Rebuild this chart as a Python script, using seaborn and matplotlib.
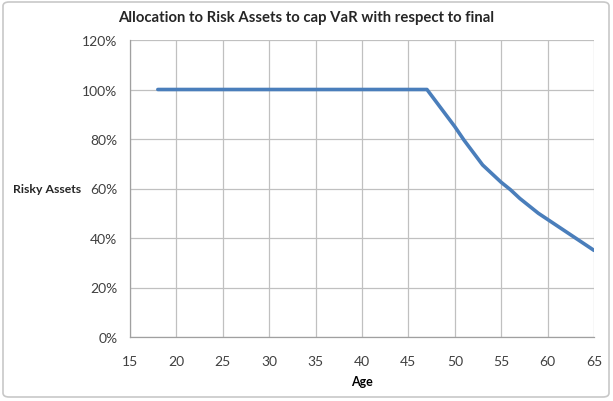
import matplotlib
matplotlib.use("Agg")
import matplotlib.pyplot as plt
import seaborn as sns
import pandas as pd
from matplotlib.patches import FancyBboxPatch
from matplotlib.ticker import FuncFormatter

ages = list(range(18, 66))
risky = [100.0] * (47 - 18) + [100.0, 95.0, 90.0, 85.0, 79.5, 74.5, 69.5, 66.0, 62.5,
                               59.5, 56.0, 53.0, 50.0, 47.5, 45.0, 42.5, 40.0, 37.5, 35.0]
x_ticks = [15, 20, 25, 30, 35, 40, 45, 50, 55, 60, 65]
y_ticks = [0, 20, 40, 60, 80, 100, 120]

df = pd.DataFrame({"Age": ages, "Risky": risky})

sns.set_theme(style="white")
plt.rcParams['font.family'] = ['Lato', 'DejaVu Sans']

fig = plt.figure(figsize=(6.13, 4.02), dpi=100)
ax = fig.add_axes([130 / 613, (402 - 338) / 402, (594 - 130) / 613, (338 - 41) / 402])

sns.lineplot(data=df, x="Age", y="Risky", ax=ax, color="#4A7EBB", linewidth=2.6)

ax.set_xlim(15, 65)
ax.set_ylim(0, 120)
ax.set_xticks(x_ticks)
ax.set_yticks(y_ticks)
ax.yaxis.set_major_formatter(FuncFormatter(lambda v, p: f"{int(v)}%"))
ax.grid(True, color="#C0C0C0", linewidth=0.9)
ax.set_axisbelow(True)
for s in ["top", "right"]:
    ax.spines[s].set_visible(False)
for s in ["left", "bottom"]:
    ax.spines[s].set_color("#A0A0A0")
    ax.spines[s].set_linewidth(0.9)
ax.tick_params(axis="both", which="major", length=4, width=0.9, color="#A0A0A0",
               labelsize=10, labelcolor="#404040", pad=5)
ax.tick_params(axis="x", pad=9)

ax.set_xlabel("Age", fontsize=9, fontweight="bold", color="black", labelpad=6)
ax.set_ylabel("")
fig.text(47 / 613, 1 - 190 / 402, "Risky Assets", fontsize=8.8, fontweight="bold",
         ha="center", va="center")
fig.text(306 / 613, 1 - 18 / 402, "Allocation to Risk Assets to cap VaR with respect to final",
         fontsize=10.7, fontweight="bold", ha="center", va="center")

border = FancyBboxPatch((3 / 613, 4 / 402), 606 / 613, 395 / 402,
                        boxstyle="round,pad=0,rounding_size=0.01",
                        transform=fig.transFigure, fill=False,
                        edgecolor="#C8C8C8", linewidth=1.2)
fig.patches.append(border)

fig.savefig("out.png", dpi=100)
